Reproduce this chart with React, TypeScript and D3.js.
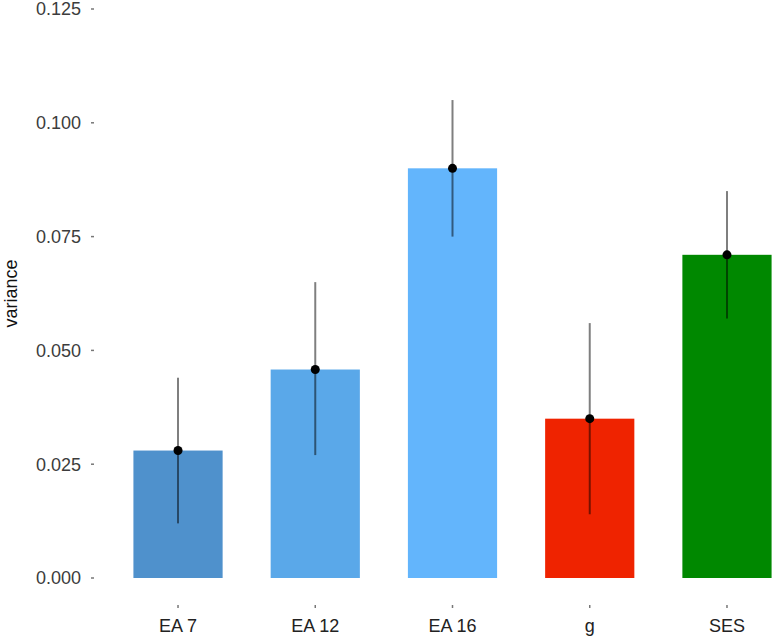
import React from "react";
import * as d3 from "d3";

const categories = ["EA 7", "EA 12", "EA 16", "g", "SES"];
const values = [0.028, 0.0458, 0.09, 0.035, 0.071];
const lower = [0.012, 0.027, 0.075, 0.014, 0.057];
const upper = [0.044, 0.065, 0.105, 0.056, 0.085];
const colors = ["#4f91cc", "#5aa8e9", "#63b5fc", "#ef2300", "#008800"];
const yTicks = [0, 0.025, 0.05, 0.075, 0.1, 0.125];

const W = 777;
const H = 641;

export default function App() {
  const x = d3
    .scaleBand<string>()
    .domain(categories)
    .range([109.4, 795.6])
    .paddingInner(0.35)
    .paddingOuter(0.175);
  const y = d3.scaleLinear().domain([0, 0.125]).range([578, 9]);
  const font = "'Liberation Sans', Arial, sans-serif";
  const tickColor = "#3c3c3c";
  return (
    <svg
      width={W}
      height={H}
      style={{ position: "absolute", left: 0, top: 0, background: "#fff" }}
      fontFamily={font}
    >
      {yTicks.map((t) => (
        <g key={t}>
          <line x1={91} x2={94} y1={y(t)} y2={y(t)} stroke="#777" strokeWidth={1.5} />
          <text x={81} y={y(t)} dy="0.36em" textAnchor="end" fontSize={18} fill={tickColor}>
            {d3.format(".3f")(t)}
          </text>
        </g>
      ))}
      <text
        transform={`translate(17, ${y(0.0625)}) rotate(-90)`}
        textAnchor="middle"
        fontSize={18}
        fill="#111"
      >
        variance
      </text>
      {categories.map((c, i) => {
        const cx = (x(c) ?? 0) + x.bandwidth() / 2;
        return (
          <g key={c}>
            <rect
              x={x(c)}
              y={y(values[i])}
              width={x.bandwidth()}
              height={y(0) - y(values[i])}
              fill={colors[i]}
            />
            <line
              x1={cx}
              x2={cx}
              y1={y(lower[i])}
              y2={y(upper[i])}
              stroke="#000"
              strokeOpacity={0.5}
              strokeWidth={2}
            />
            <circle cx={cx} cy={y(values[i])} r={4.5} fill="#000" />
            <line x1={cx} x2={cx} y1={605} y2={608} stroke="#777" strokeWidth={1.5} />
            <text x={cx} y={632} textAnchor="middle" fontSize={18} fill="#222">
              {c}
            </text>
          </g>
        );
      })}
    </svg>
  );
}
